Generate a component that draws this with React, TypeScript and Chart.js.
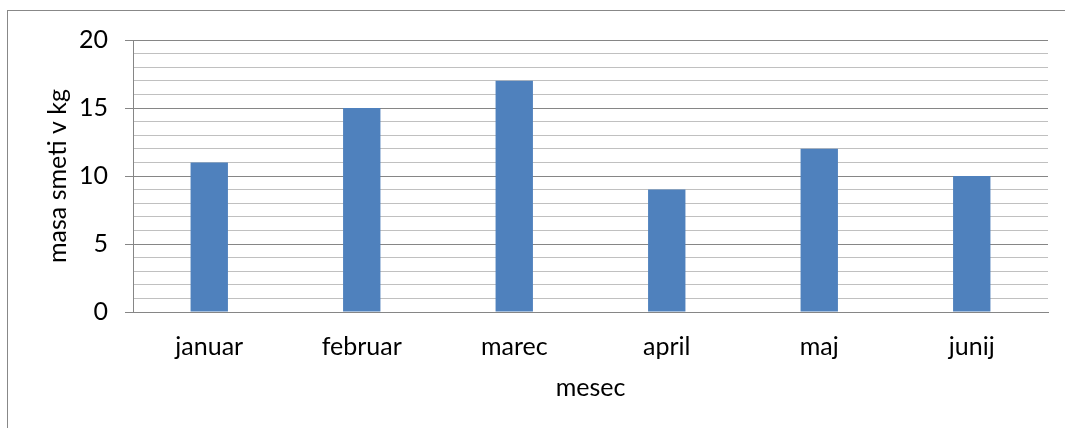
import React, { useEffect, useRef } from "react";
import { Chart, registerables } from "chart.js";

Chart.register(...registerables);

const categories: string[] = ["januar", "februar", "marec", "april", "maj", "junij"];
const values: number[] = [11, 15, 17, 9, 12, 10];
const yMin = 0;
const yMax = 20;
const yMajorStep = 5;
const yMinorStep = 1;
const seriesName = "masa smeti v kg";
const xTitle = "mesec";
const yTitle = "masa smeti v kg";

const FONT = "Lato, 'Open Sans', 'Liberation Sans', sans-serif";
const MAJOR = "#868686";
const MINOR = "#c0c0c0";
const BAR = "#4F81BD";

export default function App() {
  const ref = useRef<HTMLCanvasElement | null>(null);

  useEffect(() => {
    if (!ref.current) return;
    const chart = new Chart(ref.current, {
      type: "bar",
      data: {
        labels: categories,
        datasets: [
          {
            label: seriesName,
            data: values,
            backgroundColor: BAR,
            borderWidth: 0,
            barPercentage: 0.245,
            categoryPercentage: 1,
          },
        ],
      },
      options: {
        responsive: false,
        animation: false,
        maintainAspectRatio: false,
        layout: { padding: { left: 0, right: 17, top: 40, bottom: 0 } },
        plugins: {
          legend: { display: false },
          tooltip: { enabled: false },
        },
        scales: {
          x: {
            grid: { display: true, drawOnChartArea: false, drawTicks: false },
            border: { display: true, color: MAJOR, width: 1 },
            ticks: {
              color: "#000",
              font: { family: FONT, size: 25 },
              padding: 20,
              maxRotation: 0,
            },
            title: {
              display: true,
              text: xTitle,
              color: "#000",
              font: { family: FONT, size: 25 },
              padding: { top: 0, bottom: 25 },
            },
            afterFit: (scale: any) => {
              scale.height = 116;
            },
          },
          y: {
            min: yMin,
            max: yMax,
            grid: {
              color: (ctx: any) =>
                ctx.tick && ctx.tick.value % yMajorStep === 0 ? MAJOR : MINOR,
              tickColor: (ctx: any) =>
                ctx.tick && ctx.tick.value % yMajorStep === 0 ? MAJOR : "rgba(0,0,0,0)",
              tickLength: 8,
              lineWidth: 1,
            },
            border: { display: true, color: MAJOR, width: 1 },
            ticks: {
              stepSize: yMinorStep,
              autoSkip: false,
              color: "#000",
              font: { family: FONT, size: 25 },
              padding: 17,
              callback: (v: any) => (Number(v) % yMajorStep === 0 ? String(v) : ""),
            },
            title: {
              display: true,
              text: yTitle,
              color: "#000",
              font: { family: FONT, size: 25 },
              padding: { top: 43, bottom: 0 },
            },
            afterFit: (scale: any) => {
              scale.width = 133;
            },
          },
        },
      },
    });
    return () => chart.destroy();
  }, []);

  return (
    <div
      style={{
        position: "fixed",
        left: 0,
        top: 0,
        width: 1065,
        height: 428,
        overflow: "hidden",
        background: "#fff",
      }}
    >
      <div
        style={{
          position: "absolute",
          left: 7,
          top: 10,
          width: 1200,
          height: 600,
          border: "1px solid #888888",
          boxSizing: "border-box",
        }}
      />
      <canvas
        ref={ref}
        width={1065}
        height={428}
        style={{ position: "absolute", left: 0, top: 0, width: 1065, height: 428 }}
      />
    </div>
  );
}
